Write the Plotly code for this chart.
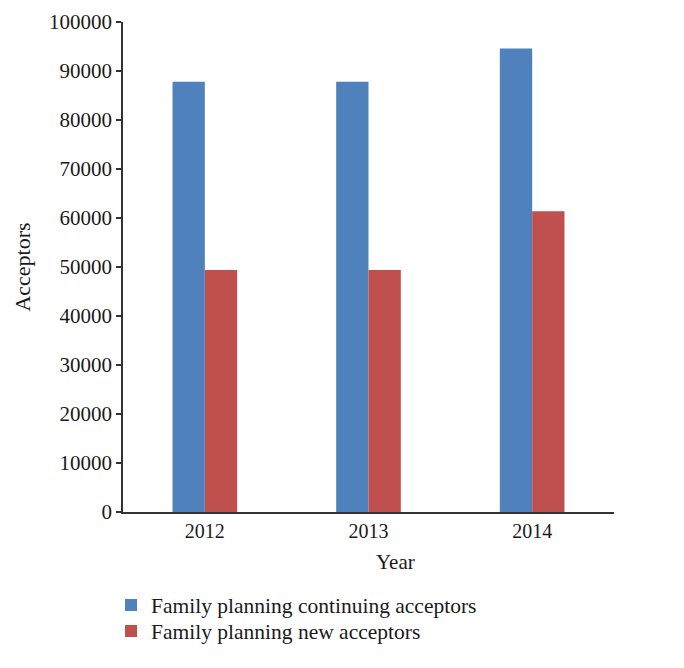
import plotly.graph_objects as go

years = ["2012", "2013", "2014"]
continuing = [87800, 87800, 94600]
new = [49400, 49400, 61400]
y_ticks = list(range(0, 100001, 10000))

FONT = "Liberation Serif"

fig = go.Figure()
fig.add_trace(go.Bar(x=years, y=continuing, name="Family planning continuing acceptors",
                     marker=dict(color="#4F81BD", line=dict(width=0)), legend="legend"))
fig.add_trace(go.Bar(x=years, y=new, name="Family planning new acceptors",
                     marker=dict(color="#C0504D", line=dict(width=0)), legend="legend2"))

leg_common = dict(xanchor="left", yanchor="top", orientation="v",
                  font=dict(size=21.5), bgcolor="rgba(0,0,0,0)", itemwidth=30)

fig.update_layout(
    width=684, height=668,
    margin=dict(l=115, r=78, t=14, b=164, autoexpand=False),
    paper_bgcolor="white", plot_bgcolor="white",
    font=dict(family=FONT, size=20, color="#1a1a1a"),
    barmode="group", bargap=0.605, bargroupgap=0,
    showlegend=True,
    legend=dict(x=-0.0244, y=-0.148, **leg_common),
    legend2=dict(x=-0.0244, y=-0.201, **leg_common),
    xaxis=dict(showline=True, linecolor="#333333", linewidth=1.5, ticks="",
               showgrid=False, tickfont=dict(size=20), automargin=False),
    yaxis=dict(range=[0, 100000], tickvals=y_ticks,
               ticktext=[str(v) for v in y_ticks],
               showline=True, linecolor="#333333", linewidth=1.5,
               ticks="outside", ticklen=5, tickcolor="#333333", tickwidth=1.5,
               showgrid=False, zeroline=False, tickfont=dict(size=21),
               automargin=False,
               title=dict(text="Acceptors", font=dict(size=22), standoff=12)),
    annotations=[dict(text="Year", xref="paper", yref="paper", x=0.556, y=-0.102,
                      xanchor="center", yanchor="middle", showarrow=False,
                      font=dict(size=21))],
)

fig.write_html("out.html")
